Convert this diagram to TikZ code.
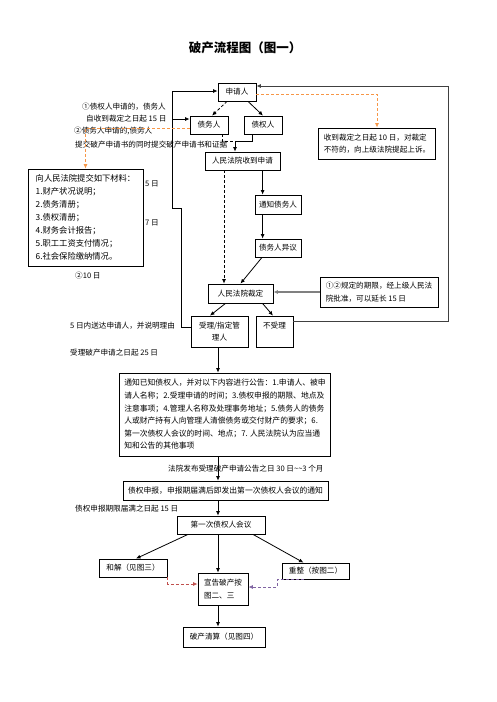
\documentclass[tikz,border=0pt]{standalone}
\usepackage{fontspec}
\setmainfont{Noto Sans CJK SC}
\usetikzlibrary{arrows.meta}
\definecolor{orng}{HTML}{F79646}
\definecolor{rdd}{HTML}{C0504D}
\definecolor{prp}{HTML}{8064A2}
\newcommand\myfs{\fontsize{7.6}{12.6}\selectfont}
\begin{document}
\begin{tikzpicture}[x=1pt,y=-1pt,
  box/.style={draw, line width=0.8pt, inner sep=1pt, font=\myfs, align=center},
  lbl/.style={inner sep=0pt, font=\myfs, anchor=west},
  arr/.style={-{Latex[length=4.5pt,width=4pt]}, line width=0.8pt},
  ln/.style={line width=0.8pt},
  orarr/.style={-{Latex[length=4.5pt,width=4pt]}, line width=0.8pt, orng, dash pattern=on 3pt off 2pt},
  rdarr/.style={-{Latex[length=4.5pt,width=4pt]}, line width=0.8pt, rdd, dash pattern=on 3pt off 2pt},
  prarr/.style={-{Latex[length=4.5pt,width=4pt]}, line width=0.8pt, prp, dash pattern=on 3pt off 2pt},
  dsh/.style={dash pattern=on 3pt off 2pt}]
\useasboundingbox (0,0) rectangle (496,702);

\node[inner sep=0pt, font=\fontsize{12.5}{14}\selectfont\bfseries] (title) at (245,48) {破产流程图（图一）};

% boxes
\node[box, minimum width=38, minimum height=18] (sq) at (237,92) {申请人};
\node[box, minimum width=38, minimum height=18] (zw) at (209,125) {债务人};
\node[box, minimum width=38, minimum height=18] (zq) at (263,125) {债权人};
\node[box, minimum width=75, minimum height=18] (sd) at (242.5,161) {人民法院收到申请};
\node[box, minimum width=114, minimum height=31, align=left, inner xsep=5pt] (sc) at (377,143.5) {收到裁定之日起 10 日，对裁定\\不符的，向上级法院提起上诉。};
\node[box, minimum width=46, minimum height=19] (tz) at (278,204.5) {通知债务人};
\node[box, minimum width=46, minimum height=18] (yy) at (278,248) {债务人异议};
\node[box, minimum width=65, minimum height=19] (cd) at (240.5,293.5) {人民法院裁定};
\node[box, minimum width=118, minimum height=30, align=left, inner xsep=5pt] (yc) at (379,292) {①②规定的期限，经上级人民法\\院批准，可以延长 15 日};
\node[box, minimum width=57, minimum height=31] (sl) at (219.5,331.5) {受理/指定管\\理人};
\node[box, minimum width=37, minimum height=31] (bsl) at (274.5,331.5) {不受理\\~};
\node[box, minimum width=204, minimum height=83, align=left, inner xsep=5pt, font=\fontsize{7.8}{12.6}\selectfont] (gg) at (225,414.5) {通知已知债权人，并对以下内容进行公告：1.申请人、被申\\请人名称；2.受理申请的时间；3.债权申报的期限、地点及\\注意事项；4.管理人名称及处理事务地址；5.债务人的债务\\人或财产持有人向管理人清偿债务或交付财产的要求；6.\\第一次债权人会议的时间、地点；7. 人民法院认为应当通\\知和公告的其他事项};
\node[box, minimum width=205, minimum height=19, font=\fontsize{7.8}{12.6}\selectfont] (sb) at (225.5,490.5) {债权申报，申报期届满后即发出第一次债权人会议的通知};
\node[box, minimum width=88, minimum height=18] (hy) at (221,525) {第一次债权人会议};
\node[box, minimum width=68, minimum height=18] (hj) at (133,568) {和解（见图三）};
\node[box, minimum width=67, minimum height=16] (cz) at (315.5,571) {重整（按图二）};
\node[box, minimum width=50, minimum height=32, align=left] (xg) at (223,589) {宣告破产按\\图二、三};
\node[box, minimum width=82, minimum height=20] (qs) at (224,637) {破产清算（见图四）};
\node[box, minimum width=115, minimum height=97, align=left, inner xsep=6pt, font=\fontsize{8.3}{13}\selectfont] (cl) at (85.5,217.5) {向人民法院提交如下材料：\\1.财产状况说明；\\2.债务清册；\\3.债权清册；\\4.财务会计报告；\\5.职工工资支付情况；\\6.社会保险缴纳情况。};

% labels
\node[lbl] (t1) at (82,107) {①债权人申请的，债务人};
\node[lbl] (t2) at (86,119) {自收到裁定之日起 15 日};
\node[lbl] (t3) at (74,131) {②债务人申请的,债务人};
\node[lbl] (t4) at (75,145) {提交破产申请书的同时提交破产申请书和证据};
\node[lbl] (t5) at (145,184) {5 日};
\node[lbl] (t6) at (145,223) {7 日};
\node[lbl] (t7) at (75,276) {②10 日};
\node[lbl] (t8) at (70,326) {5 日内送达申请人，并说明理由};
\node[lbl] (t9) at (70,353) {受理破产申请之日起 25 日};
\node[lbl] (t10) at (168,469) {法院发布受理破产申请公告之日 30 日\textasciitilde\textasciitilde 3 个月};
\node[lbl] (t11) at (75,509) {债权申报期限届满之日起 15 日};

% coordinates
\coordinate (vx) at (218,0);
\coordinate (pA) at (181,327);
\coordinate (pB) at (181,208);
\coordinate (pC) at (172,208);
\coordinate (pD) at (172,91);
\coordinate (pE) at (172,119);
\coordinate (R1) at (448,321);
\coordinate (R2) at (448,86);
\coordinate (o1) at (0,94);
\coordinate (o2) at (0,128);
\coordinate (j1) at (235,141);
\coordinate (r1) at (0,584);
\coordinate (p1) at (277,587);

% left loop
\draw[arr] (sl.west |- pA) -- (pA) -- (pB) -- (pC) -- (pD) -- (sq.west |- pD);
\draw[arr] (pE) -- (zw.west |- pE);
% right loop
\draw[arr, black!75, line width=1pt] (bsl.east |- R1) -- (R1) -- (R2) -- (sq.east |- R2);
% orange
\draw[orarr] (sq.east |- o1) -| (sc.north);
\draw[orarr] (zw.west |- o2) -| (cl.north);
% top
\draw[arr, dsh] ([xshift=-10pt]sq.south) -- ([xshift=3pt]zw.north);
\draw[arr] ([xshift=11pt]sq.south) -- (zq.north);
\draw[ln, dsh] ([xshift=13pt]zw.south) |- (j1);
\draw[arr] ([xshift=-11pt]zq.south) |- (j1) -- (sd.north -| j1);
% middle
\draw[arr, dsh] ([xshift=-18.5pt]sd.south) -- ([xshift=-16.5pt]cd.north);
\draw[arr] (sd.south -| tz.west) ++(8,0) coordinate (m1) -- (tz.north -| m1);
\draw[arr] (tz.south -| m1) -- (yy.north -| m1);
\draw[arr] ([xshift=-16pt]yy.south) -- (cd.north);
\draw[arr, black!50, line width=2pt] (yc.west) -- (cd.east |- yc.west);
\draw[arr] ([xshift=-15pt]cd.south) -- ([xshift=-9.5pt]sl.north);
\draw[arr] ([xshift=22pt]cd.south) -- ([xshift=-1.5pt]bsl.north);
% lower
\draw[arr] (sl.south -| vx) -- (gg.north -| vx);
\draw[arr] (gg.south -| vx) -- (sb.north -| vx);
\draw[arr] (sb.south -| vx) -- (hy.north -| vx);
\draw[arr] (hy.south -| vx) -- (xg.north -| vx);
\draw[arr] (xg.south -| vx) -- (qs.north -| vx);
\draw[arr] ([xshift=-33pt]hy.south) -- ([xshift=3pt]hj.north);
\draw[arr] ([xshift=32pt]hy.south) -- ([xshift=-12pt]cz.north);
\draw[rdarr] (hj.south east) |- (xg.west |- r1);
\draw[prarr] ([xshift=-12pt]cz.south) -| (p1) -- (xg.east |- p1);
\end{tikzpicture}
\end{document}
